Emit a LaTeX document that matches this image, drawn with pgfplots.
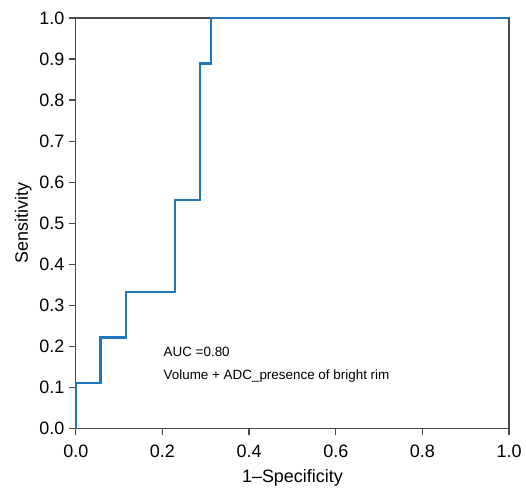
\documentclass[border=0pt]{standalone}
\usepackage{fontspec}
\setmainfont{Liberation Sans}
\usepackage{pgfplots}
\pgfplotsset{compat=1.18}
\definecolor{roc}{HTML}{1F77BF}
\definecolor{axgray}{HTML}{4A4A4A}
\begin{document}
\begin{tikzpicture}
  \begin{axis}[
    name=roc,
    scale only axis,
    width=326pt,height=309pt,
    xmin=0,xmax=1,ymin=0,ymax=1,
    xtick={0,0.2,...,1.0},ytick={0,0.1,...,1.0},
    /pgf/number format/fixed,
    /pgf/number format/fixed zerofill,
    /pgf/number format/precision=1,
    /pgf/number format/assume math mode=true,
    tick label style={font=\fontsize{13.5}{16}\selectfont},
    label style={font=\fontsize{13.5}{16}\selectfont},
    xlabel={1--Specificity},
    ylabel={Sensitivity},
    tick pos=left,
    tick align=outside,
    major tick length=5pt,
    every tick/.style={axgray,line width=0.9pt},
    axis line style={axgray,line width=1.1pt},
    xticklabel style={yshift=-3.5pt},
    xlabel style={yshift=-2.5pt},
    ylabel style={yshift=-1pt},
    clip=false]
  \addplot[roc,line width=1.6pt,const plot] coordinates {
    (0,0) (0,0.111) (0.057,0.222) (0.115,0.333) (0.229,0.556)
    (0.287,0.889) (0.313,1.0) (1.0,1.0)};
  \node[anchor=west,font=\fontsize{10.1}{12}\selectfont] at (axis cs:0.192,0.186) {AUC =0.80};
  \node[anchor=west,font=\fontsize{10.1}{12}\selectfont] at (axis cs:0.192,0.127) {Volume + ADC\_presence of bright rim};
  \end{axis}
  \path (roc.south west) ++(-57pt,-41.5pt) coordinate (bl);
  \path (roc.north east) ++(11.5pt,13.5pt) coordinate (tr);
  \path (bl) rectangle (tr);
\end{tikzpicture}
\end{document}
